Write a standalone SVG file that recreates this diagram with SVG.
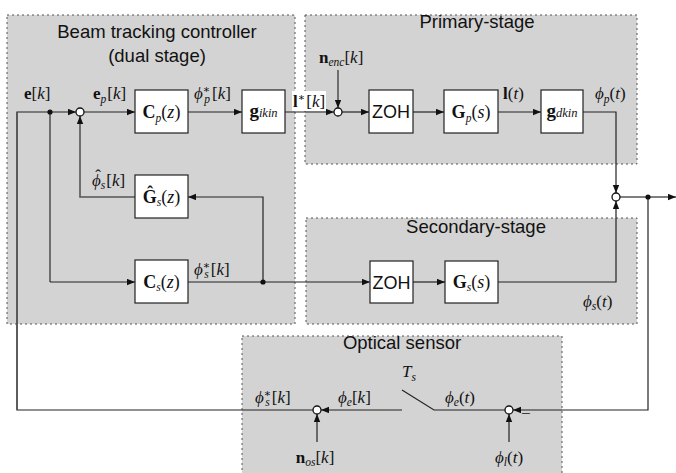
<svg xmlns="http://www.w3.org/2000/svg" width="676" height="473" viewBox="0 0 676 473">
<style>
.panel{fill:#d3d3d3;stroke:#555;stroke-width:1;stroke-dasharray:2,3}
.title{font-family:"Liberation Sans",Arial,sans-serif;font-size:18.5px;fill:#111;text-anchor:middle}
.box{fill:#fff;stroke:#222;stroke-width:1.2}
.zoh{font-family:"Liberation Sans",Arial,sans-serif;font-size:18px;fill:#111;text-anchor:middle}
.m{font-family:"Liberation Serif","DejaVu Serif","Times New Roman",serif;font-size:17px;fill:#111}
.mc{font-family:"Liberation Serif","DejaVu Serif","Times New Roman",serif;font-size:18px;fill:#111;text-anchor:middle}
.b{font-weight:bold}
.i{font-style:italic}
.sub{font-size:11.5px;font-style:italic}
.w{stroke:#222;stroke-width:1.2;fill:none}
.g{stroke:#555;stroke-width:1.6;fill:none}
.a{marker-end:url(#arr)}
.sum{fill:#fff;stroke:#111;stroke-width:1.3}
.dot{fill:#111}
</style>
<defs>
<marker id="arr" markerWidth="9" markerHeight="7" refX="8" refY="3.2" orient="auto" markerUnits="userSpaceOnUse">
<path d="M0,0 L8,3.2 L0,6.4 z" fill="#111"/>
</marker>
</defs>

<g id="panels">
<rect class="panel" x="7" y="15" width="288" height="309"/>
<rect class="panel" x="305" y="15" width="332" height="149"/>
<rect class="panel" x="306" y="218" width="331" height="106"/>
<rect class="panel" x="242" y="336" width="320" height="142"/>
<text class="title" x="157" y="38">Beam tracking controller</text>
<text class="title" x="157" y="62">(dual stage)</text>
<text class="title" x="477" y="28">Primary-stage</text>
<text class="title" x="476" y="233">Secondary-stage</text>
<text class="title" x="402" y="349">Optical sensor</text>
</g>

<g id="connectors">
<path class="w a" d="M313,410 H17 V112 H76"/>
<path class="g" d="M17,410 V112"/>
<path class="g" d="M50,112 V282"/>
<path class="w a" d="M50,282 H135"/>
<path class="w a" d="M84,112 H135"/>
<path class="w a" d="M188,112 H242"/>
<path class="w a" d="M285,112 H334"/>
<path class="g a" d="M338,70 V108"/>
<path class="w a" d="M342,112 H369"/>
<path class="w a" d="M413,112 H444"/>
<path class="w a" d="M498,112 H541"/>
<path class="w a" d="M583,112 H616 V193"/>
<path class="w a" d="M188,282 H370"/>
<path class="w a" d="M263,282 V197 H188"/>
<path class="g a" d="M135,197 H80 V116"/>
<path class="w a" d="M413,282 H445"/>
<path class="w a" d="M498,282 H616 V201"/>
<path class="g a" d="M620,197 H676"/>
<path class="w a" d="M648,197 V410 H513"/>
<path class="w" d="M505,410 H434 L402,390"/>
<path class="w a" d="M402,410 H321"/>
<path class="w a" d="M509,442 V414"/>
<path class="w a" d="M317,442 V414"/>
<circle class="dot" cx="50" cy="112" r="2.6"/>
<circle class="dot" cx="263" cy="282" r="2.6"/>
<circle class="dot" cx="648" cy="197" r="2.6"/>
<circle class="sum" cx="80" cy="112" r="4"/>
<circle class="sum" cx="338" cy="112" r="4"/>
<circle class="sum" cx="616" cy="197" r="4"/>
<circle class="sum" cx="317" cy="410" r="4"/>
<circle class="sum" cx="509" cy="410" r="4"/>
</g>

<g id="Cp">
<rect class="box" x="135" y="90" width="53" height="43"/>
<text class="mc" x="161.5" y="118"><tspan class="b">C</tspan><tspan class="sub" dy="4">p</tspan><tspan dy="-4">(</tspan><tspan class="i">z</tspan>)</text>
</g>
<g id="gikin">
<rect class="box" x="242" y="90" width="43" height="43"/>
<text class="mc" x="263.5" y="117"><tspan class="b" font-size="19">g</tspan><tspan class="i" font-size="12.5">ikin</tspan></text>
</g>
<g id="ZOH1">
<rect class="box" x="369" y="90" width="44" height="43"/>
<text class="zoh" x="391" y="118">ZOH</text>
</g>
<g id="Gp">
<rect class="box" x="444" y="90" width="54" height="43"/>
<text class="mc" x="471" y="118"><tspan class="b">G</tspan><tspan class="sub" dy="4">p</tspan><tspan dy="-4">(</tspan><tspan class="i">s</tspan>)</text>
</g>
<g id="gdkin">
<rect class="box" x="541" y="90" width="42" height="43"/>
<text class="mc" x="562" y="117"><tspan class="b" font-size="19">g</tspan><tspan class="i" font-size="12.5">dkin</tspan></text>
</g>
<g id="Gs_hat">
<rect class="box" x="135" y="175" width="53" height="43"/>
<text class="mc" x="161.5" y="203"><tspan class="b">Ĝ</tspan><tspan class="sub" dy="3">s</tspan><tspan dy="-3">(</tspan><tspan class="i">z</tspan>)</text>
</g>
<g id="Cs">
<rect class="box" x="135" y="260" width="53" height="43"/>
<text class="mc" x="161.5" y="288"><tspan class="b">C</tspan><tspan class="sub" dy="3">s</tspan><tspan dy="-3">(</tspan><tspan class="i">z</tspan>)</text>
</g>
<g id="ZOH2">
<rect class="box" x="370" y="261" width="43" height="42"/>
<text class="zoh" x="391.5" y="288.5">ZOH</text>
</g>
<g id="Gs">
<rect class="box" x="445" y="261" width="53" height="42"/>
<text class="mc" x="471.5" y="288"><tspan class="b">G</tspan><tspan class="sub" dy="3">s</tspan><tspan dy="-3">(</tspan><tspan class="i">s</tspan>)</text>
</g>

<g id="labels">
<text class="m" x="24" y="99"><tspan class="b">e</tspan>[<tspan class="i">k</tspan>]</text>
<text class="m" x="93" y="99"><tspan class="b">e</tspan><tspan class="sub" dy="4">p</tspan><tspan dy="-4" dx="1">[</tspan><tspan class="i">k</tspan>]</text>
<text class="m" x="194" y="99"><tspan class="i">ϕ</tspan><tspan font-size="11" dy="-6">∗</tspan><tspan class="sub" dx="-6" dy="10">p</tspan><tspan dy="-4" dx="2">[</tspan><tspan class="i">k</tspan>]</text>
<rect x="292" y="91" width="34" height="20" fill="#fff"/>
<text class="m" x="293" y="107"><tspan class="b">l</tspan><tspan font-size="11" dy="-6">∗</tspan><tspan dy="6" dx="1">[</tspan><tspan class="i">k</tspan>]</text>
<text class="m" x="319" y="63"><tspan class="b">n</tspan><tspan class="sub" dy="3">enc</tspan><tspan dy="-3">[</tspan><tspan class="i">k</tspan>]</text>
<text class="m" x="503" y="99"><tspan class="b">l</tspan>(<tspan class="i">t</tspan>)</text>
<text class="m" x="595" y="99"><tspan class="i">ϕ</tspan><tspan class="sub" dy="4">p</tspan><tspan dy="-4">(</tspan><tspan class="i">t</tspan>)</text>
<text class="m" x="92" y="186"><tspan class="i">ϕ</tspan><tspan class="sub" dy="3">s</tspan><tspan dy="-3" dx="1">[</tspan><tspan class="i">k</tspan>]</text>
<text class="m" x="98" y="181" text-anchor="middle">ˆ</text>
<text class="m" x="194" y="275"><tspan class="i">ϕ</tspan><tspan font-size="11" dy="-6">∗</tspan><tspan class="sub" dx="-6" dy="9">s</tspan><tspan dy="-3" dx="2">[</tspan><tspan class="i">k</tspan>]</text>
<text class="m" x="583" y="307"><tspan class="i">ϕ</tspan><tspan class="sub" dy="3">s</tspan><tspan dy="-3">(</tspan><tspan class="i">t</tspan>)</text>
<text class="m" x="402" y="377"><tspan class="i">T</tspan><tspan class="sub" dy="4">s</tspan></text>
<text class="m" x="255" y="403"><tspan class="i">ϕ</tspan><tspan font-size="11" dy="-6">∗</tspan><tspan class="sub" dx="-6" dy="9">s</tspan><tspan dy="-3" dx="2">[</tspan><tspan class="i">k</tspan>]</text>
<text class="m" x="338" y="403"><tspan class="i">ϕ</tspan><tspan class="sub" dy="3">e</tspan><tspan dy="-3">[</tspan><tspan class="i">k</tspan>]</text>
<text class="m" x="445" y="403"><tspan class="i">ϕ</tspan><tspan class="sub" dy="3">e</tspan><tspan dy="-3">(</tspan><tspan class="i">t</tspan>)</text>
<text class="m" x="521" y="419" font-size="14">−</text>
<text class="m" x="315" y="463" text-anchor="middle"><tspan class="b">n</tspan><tspan class="sub" dy="3">os</tspan><tspan dy="-3">[</tspan><tspan class="i">k</tspan>]</text>
<text class="m" x="509" y="463" text-anchor="middle"><tspan class="i">ϕ</tspan><tspan class="sub" dy="3">l</tspan><tspan dy="-3">(</tspan><tspan class="i">t</tspan>)</text>
</g>
</svg>
